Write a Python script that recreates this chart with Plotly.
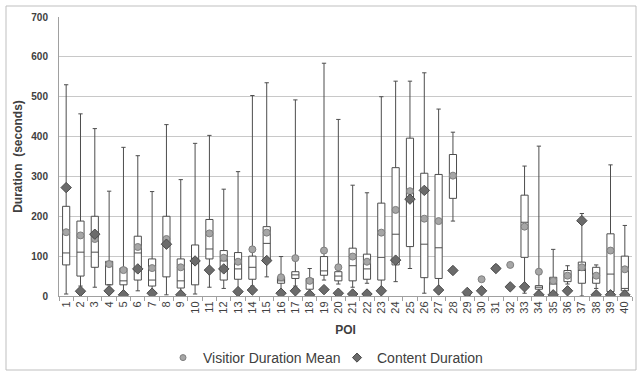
import plotly.graph_objects as go

pois = [str(i) for i in range(1, 41)]

# box statistics (None = no box)
box_max = [530, 457, 420, 263, 373, 352, 262, 430, 292, 383, 403, 268, 312, 503, 535, 99, 492, 69, 584, 443,
           278, 259, 500, 539, 539, 560, 469, 411, None, None, None, None, 326, 376, 117, 76, 207, 78, 329, 177]
box_q3 = [225, 188, 200, 87, 70, 150, 93, 200, 93, 128, 192, 114, 109, 100, 174, 47, 61, 44, 99, 61,
          120, 105, 233, 322, 396, 308, 305, 355, None, None, None, None, 253, 26, 47, 64, 85, 72, 156, 100]
box_med = [108, 110, 110, 84, 38, 108, 40, 130, 38, 88, 118, 88, 68, 72, 132, 38, 53, 40, 63, 50,
           76, 68, 97, 155, 240, 130, 121, 302, None, None, None, None, 185, 22, 30, 53, 64, 55, 55, 19]
box_q1 = [78, 50, 72, 28, 28, 40, 25, 48, 20, 28, 93, 40, 42, 42, 86, 32, 44, 17, 52, 38,
          38, 42, 40, 78, 124, 46, 44, 245, None, None, None, None, 97, 17, 8, 36, 32, 32, 11, 13]
box_min = [5, 25, 22, 28, 5, 13, 8, 3, 5, 5, 22, 19, 10, 25, 48, 10, 25, 10, 40, 30,
           22, 32, 20, 36, 69, 7, 10, 188, None, None, None, None, 7, 10, 5, 30, 0, 19, 5, 8]
visitor_mean = [160, 152, 143, 80, 65, 123, 70, 143, 72, 88, 157, 96, 86, 117, 159, 47, 95, 38, 114, 72,
                99, 86, 159, 216, 263, 194, 188, 302, 5, 42, 70, 78, 174, 61, 38, 51, 72, 51, 114, 67]
content_dur = [272, 12, 155, 13, 3, 68, 7, 130, 3, 88, 65, 68, 11, 15, 89, 7, 13, 3, 16, 7,
               5, 5, 13, 90, 243, 265, 15, 64, 9, 13, 69, 23, 23, 3, 3, 13, 189, 3, 3, 3]

idx = [i for i in range(40) if box_q3[i] is not None]

mean_marker = dict(symbol="circle", color="#a6a6a6", line=dict(color="#7f7f7f", width=1))
content_marker = dict(symbol="diamond", color="#6b6b6b", line=dict(color="#4a4a4a", width=1))

fig = go.Figure()
fig.add_trace(go.Box(
    x=[pois[i] for i in idx],
    q1=[box_q1[i] for i in idx],
    median=[box_med[i] for i in idx],
    q3=[box_q3[i] for i in idx],
    lowerfence=[box_min[i] for i in idx],
    upperfence=[box_max[i] for i in idx],
    fillcolor="white",
    line=dict(color="#4d4d4d", width=1),
    width=0.5,
    whiskerwidth=0.6,
    boxpoints=False,
    showlegend=False,
    hoverinfo="skip",
))
fig.add_trace(go.Scatter(
    x=pois, y=visitor_mean, mode="markers", name="Visitior Duration Mean",
    showlegend=False, marker=dict(mean_marker, size=7),
))
fig.add_trace(go.Scatter(
    x=pois, y=content_dur, mode="markers", name="Content Duration",
    showlegend=False, marker=dict(content_marker, size=8),
))
# legend entries with smaller symbols, as in the reference
fig.add_trace(go.Scatter(
    x=[None], y=[None], mode="markers", name="Visitior Duration Mean",
    legend="legend", marker=dict(mean_marker, size=6),
))
fig.add_trace(go.Scatter(
    x=[None], y=[None], mode="markers", name="Content Duration",
    legend="legend2", marker=dict(content_marker, size=7),
))

legend_common = dict(orientation="h", xref="container", yref="container",
                     yanchor="middle", y=(371 - 358) / 371, xanchor="left",
                     font=dict(size=14, color="#404040"), itemwidth=30,
                     bgcolor="rgba(0,0,0,0)", tracegroupgap=0)

fig.update_layout(
    width=638, height=371,
    margin=dict(l=59, r=6, t=17, b=75, autoexpand=False),
    paper_bgcolor="white", plot_bgcolor="white",
    font=dict(family="Liberation Sans, Arial, sans-serif", color="#404040"),
    legend=dict(legend_common, x=(193 - 30) / 638),
    legend2=dict(legend_common, x=(367 - 30) / 638),
    shapes=[dict(type="rect", xref="paper", yref="paper",
                 x0=(6 - 59) / 573, x1=(636 - 59) / 573,
                 y0=(296 - 370) / 279, y1=(296 - 6) / 279,
                 line=dict(color="#bfbfbf", width=1), fillcolor="rgba(0,0,0,0)", layer="below")],
)
fig.update_xaxes(
    type="category", categoryorder="array", categoryarray=pois, dtick=1,
    range=[-0.5, 39.5],
    tickangle=-90, tickfont=dict(size=11, color="#404040"), automargin=False,
    ticks="outside", tickson="boundaries", ticklen=4, tickcolor="#a0a0a0",
    showline=True, linecolor="#a0a0a0", linewidth=1, showgrid=False,
    title=dict(text="<b>POI</b>", font=dict(size=12, color="#404040"), standoff=12),
)
fig.update_yaxes(
    range=[0, 700], dtick=100, tickfont=dict(size=10, color="#404040"),
    tickprefix="<b>", ticksuffix="</b>", automargin=False,
    showgrid=True, gridcolor="#c8c8c8", gridwidth=1,
    showline=True, linecolor="#a0a0a0", linewidth=1, zeroline=False,
    ticks="", ticklabelstandoff=8,
    title=dict(text="<b>Duration  (seconds)</b>", font=dict(size=12, color="#404040"), standoff=6),
)

fig.write_html("out.html")
